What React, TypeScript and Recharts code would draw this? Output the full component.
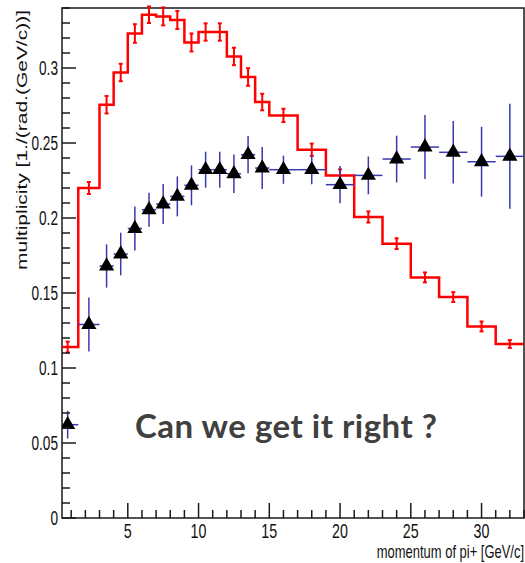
import {
  ComposedChart,
  ErrorBar,
  Label,
  Line,
  ReferenceArea,
  Scatter,
  XAxis,
  YAxis,
  ZAxis,
} from "recharts";

// bin edges of the histogram [GeV/c]
const BIN_EDGES = [0, 1.5, 3, 4, 5, 6, 7, 8, 9, 10, 11, 12, 13, 14, 15, 17, 19, 21, 23, 25, 27, 29, 31, 33];

// red histogram (simulation)
const RED_VALUES = [
  0.114, 0.22, 0.2755, 0.297, 0.323, 0.3355, 0.3344, 0.332, 0.317, 0.324, 0.324, 0.3077,
  0.294, 0.2773, 0.2684, 0.2455, 0.2283, 0.2007, 0.1829, 0.1604, 0.1473, 0.1277, 0.116,
];
const RED_ERRORS = [
  0.0036, 0.004, 0.0058, 0.0058, 0.0062, 0.0055, 0.006, 0.006, 0.006, 0.0058, 0.0058, 0.0058,
  0.0059, 0.0055, 0.0044, 0.0041, 0.0041, 0.0037, 0.0036, 0.0033, 0.0033, 0.0033, 0.0026,
];

// black triangles (data)
const DATA_VALUES = [
  0.0622, 0.129, 0.168, 0.176, 0.193, 0.2055, 0.2093, 0.2144, 0.2218, 0.2322, 0.2322, 0.2295,
  0.2422, 0.2333, 0.2322, 0.2322, 0.2222, 0.2284, 0.2393, 0.2473, 0.2438, 0.2375, 0.2411,
];
const DATA_ERRORS = [
  0.0092, 0.018, 0.0144, 0.0142, 0.0147, 0.0114, 0.0133, 0.0133, 0.0133, 0.012, 0.012, 0.0128,
  0.0124, 0.014, 0.0094, 0.0097, 0.0124, 0.0126, 0.0156, 0.0213, 0.0208, 0.0233, 0.035,
];

const X_TICKS = [
  1, 2, 3, 4, 5, 6, 7, 8, 9, 10, 11, 12, 13, 14, 15, 16, 17, 18, 19, 20, 21, 22, 23, 24, 25,
  26, 27, 28, 29, 30, 31, 32, 33,
];
const X_LABELS = [5, 10, 15, 20, 25, 30];
const Y_TICKS = [
  0, 0.01, 0.02, 0.03, 0.04, 0.05, 0.06, 0.07, 0.08, 0.09, 0.1, 0.11, 0.12, 0.13, 0.14, 0.15,
  0.16, 0.17, 0.18, 0.19, 0.2, 0.21, 0.22, 0.23, 0.24, 0.25, 0.26, 0.27, 0.28, 0.29, 0.3, 0.31,
  0.32, 0.33, 0.34,
];
const Y_LABELS = [0, 0.05, 0.1, 0.15, 0.2, 0.25, 0.3];

const X_DOMAIN = [0.35, 33];
const Y_DOMAIN = [0, 0.34];

const stepData = BIN_EDGES.map((edge, i) => ({
  x: edge,
  y: RED_VALUES[Math.min(i, RED_VALUES.length - 1)],
}));

// bin centres, with the horizontal bar cut at the left edge of the frame
const centers = RED_VALUES.map((_, i) => {
  const lo = BIN_EDGES[i];
  const hi = BIN_EDGES[i + 1];
  const x = (lo + hi) / 2;
  return { x, xerr: [x - Math.max(lo, X_DOMAIN[0]), hi - x] };
});

const redPoints = centers.map((c, i) => ({ ...c, y: RED_VALUES[i], err: RED_ERRORS[i] }));
const dataPoints = centers.map((c, i) => ({ ...c, y: DATA_VALUES[i], err: DATA_ERRORS[i] }));

const FONT = "'Liberation Sans', Arial, Helvetica, sans-serif";
const AXIS = "#1a1a1a";

function XTick({ x, y, payload }: any) {
  const major = X_LABELS.includes(payload.value);
  return (
    <g>
      <line x1={x} x2={x} y1={y} y2={y - (major ? 15 : 8)} stroke={AXIS} strokeWidth={1.5} />
      {major && (
        <g transform={`translate(${x},${y + 20}) scale(0.68,1)`}>
          <text textAnchor="middle" fontFamily={FONT} fontSize={21} fill="#111">
            {payload.value}
          </text>
        </g>
      )}
    </g>
  );
}

function YTick({ x, y, payload }: any) {
  const major = Y_LABELS.includes(payload.value);
  return (
    <g>
      <line x1={x} x2={x + (major ? 14 : 8)} y1={y} y2={y} stroke={AXIS} strokeWidth={1.5} />
      {major && (
        <g transform={`translate(${x - 4},${y + 7}) scale(0.65,1)`}>
          <text textAnchor="end" fontFamily={FONT} fontSize={21} fill="#111">
            {String(payload.value)}
          </text>
        </g>
      )}
    </g>
  );
}

const noDot = () => <g />;

export default function App() {
  return (
    <div style={{ position: "relative", width: 525, height: 563, background: "#fff" }}>
      <style>{"body{margin:0}"}</style>
      <ComposedChart width={525} height={563} margin={{ top: 8, right: 1, bottom: 0, left: 0 }}>
        <XAxis
          type="number"
          dataKey="x"
          domain={X_DOMAIN}
          allowDataOverflow
          ticks={X_TICKS}
          interval={0}
          tick={<XTick />}
          tickLine={false}
          axisLine={false}
          tickSize={0}
          tickMargin={0}
          height={45}
        >
          <Label
            content={({ viewBox }: any) => (
              <g transform={`translate(${viewBox.x + viewBox.width},${viewBox.y + 40}) scale(0.72,1)`}>
                <text textAnchor="end" fontFamily={FONT} fontSize={18} fill="#111">
                  momentum of pi+ [GeV/c]
                </text>
              </g>
            )}
          />
        </XAxis>
        <YAxis
          type="number"
          dataKey="y"
          domain={Y_DOMAIN}
          allowDataOverflow
          ticks={Y_TICKS}
          interval={0}
          tick={<YTick />}
          tickLine={false}
          axisLine={false}
          tickSize={0}
          tickMargin={0}
          width={62}
        >
          <Label
            content={() => (
              <g transform="translate(27,10) scale(0.72,1) rotate(-90)">
                <text textAnchor="end" fontFamily={FONT} fontSize={21} fill="#111">
                  multiplicity [1./(rad.(GeV/c))]
                </text>
              </g>
            )}
          />
        </YAxis>
        <ZAxis range={[100, 100]} />
        <ReferenceArea
          x1={X_DOMAIN[0]}
          x2={X_DOMAIN[1]}
          y1={Y_DOMAIN[0]}
          y2={Y_DOMAIN[1]}
          fill="none"
          stroke={AXIS}
          strokeWidth={1.5}
        />
        <Line
          data={stepData}
          dataKey="y"
          type="stepAfter"
          stroke="#ff0000"
          strokeWidth={2.5}
          dot={false}
          isAnimationActive={false}
        />
        <Scatter data={redPoints} dataKey="y" shape={noDot} isAnimationActive={false}>
          <ErrorBar dataKey="err" direction="y" width={2} stroke="#ff0000" strokeWidth={2} />
        </Scatter>
        <Scatter data={dataPoints} dataKey="y" shape="triangle" fill="#000" isAnimationActive={false}>
          <ErrorBar dataKey="xerr" direction="x" width={0} stroke="#3a3ab0" strokeWidth={1.5} />
          <ErrorBar dataKey="err" direction="y" width={0} stroke="#3a3ab0" strokeWidth={1.5} />
        </Scatter>
      </ComposedChart>
      <svg width={525} height={563} style={{ position: "absolute", left: 0, top: 0, pointerEvents: "none" }}>
        <text
          x={135}
          y={438}
          fontFamily="Lato, 'Open Sans', sans-serif"
          fontWeight={700}
          fontSize={33}
          fill="#404040"
          textLength={302}
          lengthAdjust="spacing"
        >
          Can we get it right ?
        </text>
      </svg>
    </div>
  );
}
